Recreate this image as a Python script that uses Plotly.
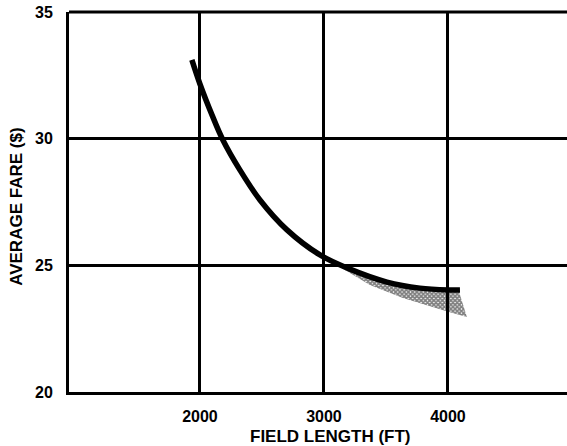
import plotly.graph_objects as go

# Main curve: average fare vs field length
curve_x = [1935, 2000, 2097, 2185, 2323, 2484, 2702, 2968, 3185, 3508, 3774, 4008, 4097]
curve_y = [33.11, 32.16, 30.94, 29.95, 28.76, 27.58, 26.40, 25.41, 24.90, 24.34, 24.10, 24.03, 24.03]

# Shaded band (upper edge follows curve, lower edge below)
band_upper_x = [3129, 3185, 3508, 3774, 4008, 4085]
band_upper_y = [25.01, 24.90, 24.34, 24.10, 24.03, 24.03]
band_lower_x = [3129, 3371, 3637, 4008, 4153]
band_lower_y = [24.93, 24.22, 23.71, 23.16, 22.96]

x_ticks = [2000, 3000, 4000]
x_tick_labels = ["2000", "3000", "4000"]
y_ticks = [20, 25, 30, 35]
y_tick_labels = ["20", "25", "30", "35"]

FONT = "Liberation Sans, Arial, sans-serif"

fig = go.Figure()

poly_x = band_upper_x + band_lower_x[::-1]
poly_y = band_upper_y + band_lower_y[::-1]
fig.add_trace(go.Scatter(
    x=poly_x, y=poly_y, mode="lines", fill="toself",
    line=dict(width=0, color="rgba(0,0,0,0)"),
    fillcolor="rgba(0,0,0,0)",
    fillpattern=dict(shape="x", size=3, solidity=0.8, fgcolor="#000", bgcolor="rgba(255,255,255,0)"),
    hoverinfo="skip", showlegend=False,
))

fig.add_trace(go.Scatter(
    x=curve_x, y=curve_y, mode="lines",
    line=dict(color="black", width=5.5, shape="spline", smoothing=1.0),
    hoverinfo="skip", showlegend=False,
))

fig.update_layout(
    width=580, height=446,
    margin=dict(l=69, r=0, t=12, b=54),
    paper_bgcolor="white", plot_bgcolor="white",
    font=dict(family=FONT, color="black", size=16),
    xaxis=dict(
        range=[944, 5065], tickvals=x_ticks, ticktext=x_tick_labels,
        showgrid=True, gridcolor="black", gridwidth=2.5,
        showline=True, linecolor="black", linewidth=3, mirror=False,
        ticks="", ticklabelstandoff=8, zeroline=False, automargin=False,
        tickfont=dict(family=FONT, size=16, weight="bold"),
    ),
    yaxis=dict(
        range=[20, 35], tickvals=y_ticks, ticktext=y_tick_labels,
        showgrid=True, gridcolor="black", gridwidth=2.5,
        showline=True, linecolor="black", linewidth=3, mirror=False,
        ticks="", ticklabelstandoff=10, zeroline=False, automargin=False,
        tickfont=dict(family=FONT, size=16, weight="bold"),
    ),
    shapes=[
        dict(type="line", xref="paper", yref="paper", x0=0, x1=1, y0=1, y1=1,
             line=dict(color="black", width=3)),
    ],
    annotations=[
        dict(text="FIELD LENGTH (FT)", xref="x", yref="paper", x=3050, y=-0.118,
             xanchor="center", yanchor="middle", showarrow=False,
             font=dict(family=FONT, size=17, weight="bold")),
        dict(text="AVERAGE FARE ($)", xref="paper", yref="paper", x=-0.102, y=0.487,
             xanchor="center", yanchor="middle", textangle=-90, showarrow=False,
             font=dict(family=FONT, size=17, weight="bold")),
    ],
)

fig.write_html(
    "out.html",
    config={"displayModeBar": False},
    post_script=(
        "document.documentElement.style.overflow='hidden';"
        "document.body.style.margin='0';document.body.style.overflow='hidden';"
    ),
)
